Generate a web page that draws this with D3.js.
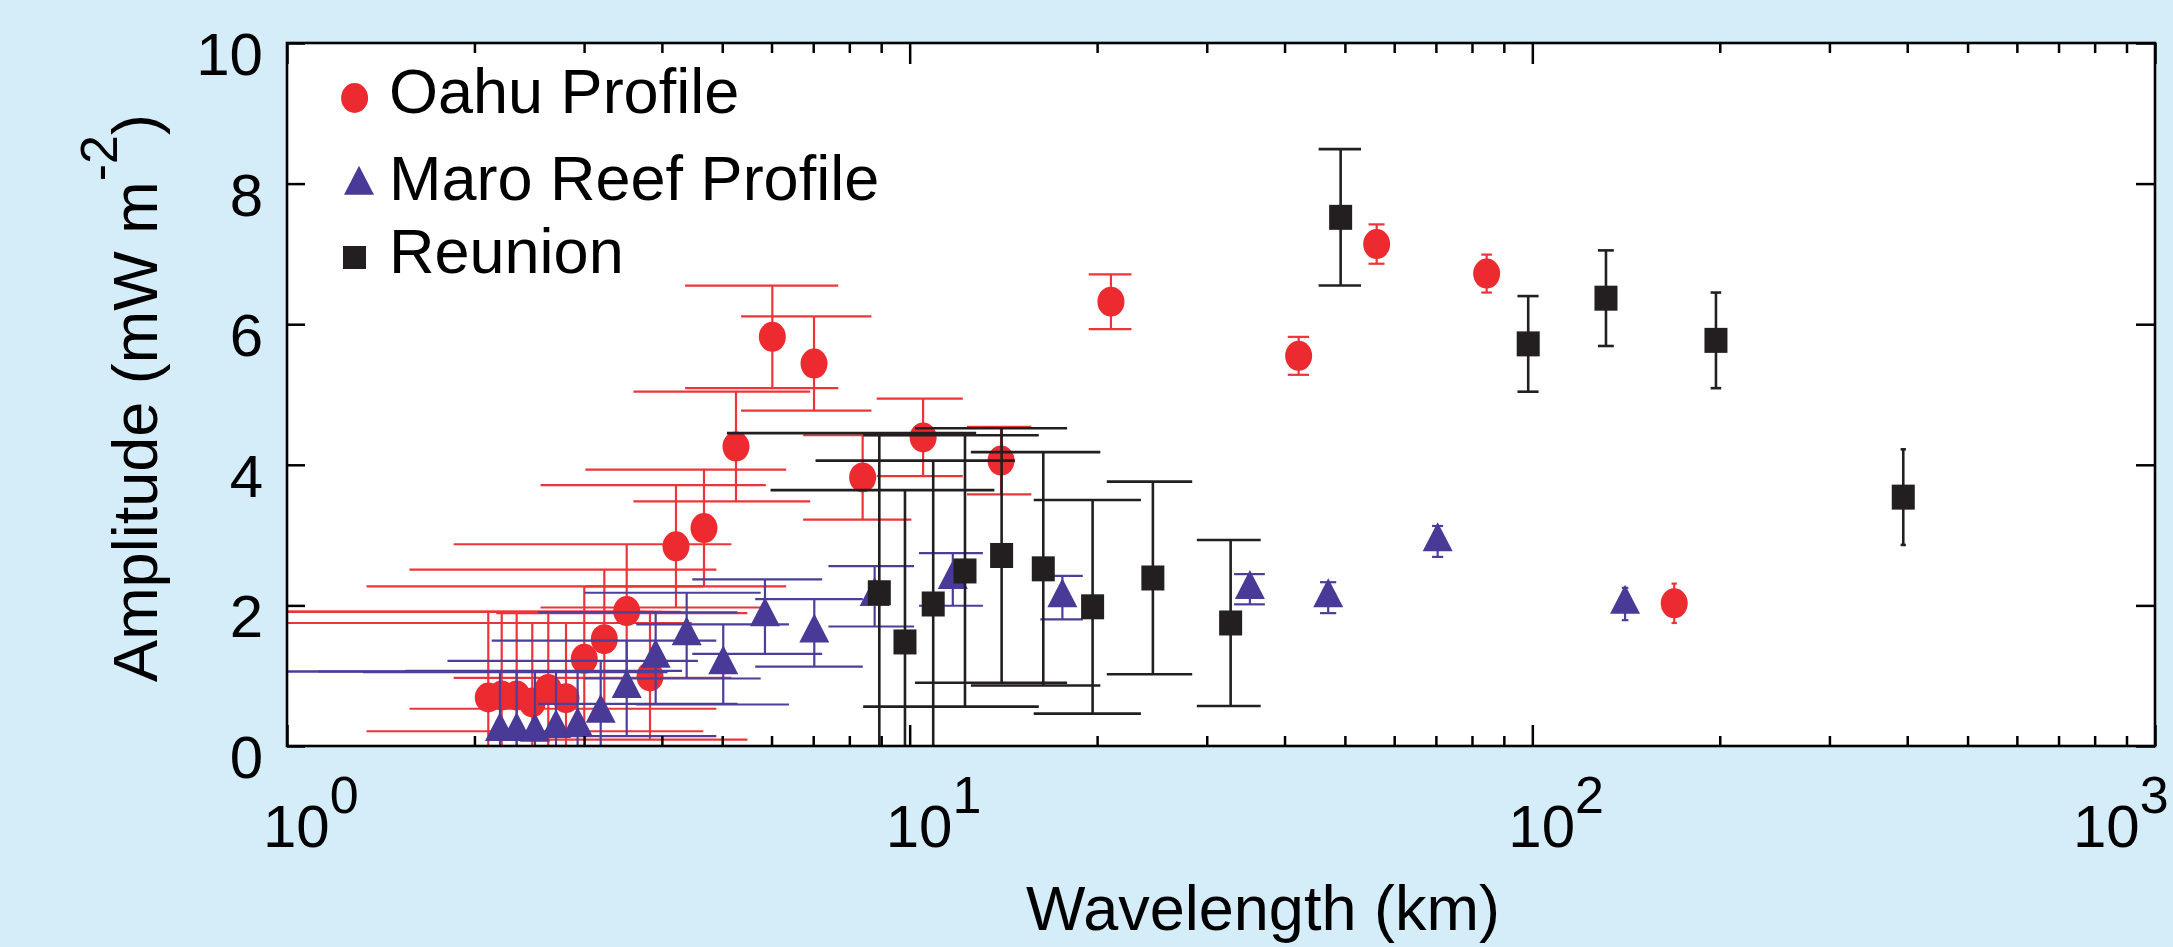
<!DOCTYPE html>
<html>
<head>
<meta charset="utf-8">
<script src="https://cdn.jsdelivr.net/npm/d3@7"></script>
<style>
  html, body { margin: 0; padding: 0; background: #d5ecf9; }
  svg { display: block; }
  text { font-family: "Liberation Sans", Arial, Helvetica, sans-serif; fill: #000; }
</style>
</head>
<body>
<svg id="chart" width="2173" height="947"></svg>
<script>
// Oahu Profile (red ellipses)
const oahuX = [2.105, 2.212, 2.338, 2.477, 2.628, 2.806, 3.002, 3.233, 3.512, 3.828, 4.214, 4.674, 5.261, 6.018, 7.021, 8.404, 10.51, 14.02, 21.05, 42.14, 56.23, 84.46, 169.0];
const oahuY = [0.69, 0.72, 0.72, 0.62, 0.81, 0.68, 1.24, 1.52, 1.92, 0.99, 2.84, 3.10, 4.26, 5.82, 5.44, 3.82, 4.39, 4.06, 6.32, 5.55, 7.14, 6.72, 2.03];
const oahuYErr = [1.22, 1.19, 1.19, 1.13, 1.10, 1.07, 1.03, 0.99, 0.95, 0.90, 0.87, 0.83, 0.78, 0.73, 0.67, 0.60, 0.55, 0.48, 0.39, 0.27, 0.28, 0.27, 0.28];
const oahuXErr = [1.66, 1.66, 1.66, 1.66, 1.66, 1.66, 1.66, 1.66, 1.66, 1.66, 1.66, 1.66, 1.66, 1.66, 1.66, 1.66, 1.66, 1.66, 1.66, 1.66, 1.66, 1.66, 1.66];

// Maro Reef Profile (blue triangles)
const maroX = [2.198, 2.338, 2.502, 2.704, 2.929, 3.190, 3.512, 3.909, 4.384, 5.019, 5.856, 7.028, 8.785, 11.73, 17.59, 35.19, 47.01, 70.46, 140.9];
const maroY = [0.21, 0.21, 0.20, 0.25, 0.28, 0.47, 0.82, 1.25, 1.57, 1.16, 1.84, 1.61, 2.13, 2.37, 2.11, 2.23, 2.11, 2.91, 2.02];
const maroYErr = [0.85, 0.85, 0.86, 0.80, 0.79, 0.74, 0.68, 0.65, 0.61, 0.57, 0.53, 0.48, 0.43, 0.375, 0.31, 0.215, 0.22, 0.22, 0.23];
const maroXErr = [1.38, 1.38, 1.38, 1.38, 1.38, 1.38, 1.38, 1.38, 1.38, 1.38, 1.38, 1.38, 1.38, 1.38, 1.38, 2.0, 1.41, 1.45, 1.7];

// Reunion (black squares)
const reunionX = [8.938, 9.828, 10.91, 12.27, 14.05, 16.39, 19.67, 24.58, 32.77, 49.22, 98.49, 131.3, 197.2, 394.2];
const reunionY = [2.18, 1.48, 2.02, 2.49, 2.71, 2.52, 1.98, 2.39, 1.75, 7.52, 5.72, 6.37, 5.77, 3.54];
const reunionYErr = [2.27, 2.16, 2.04, 1.93, 1.81, 1.66, 1.52, 1.37, 1.18, 0.97, 0.68, 0.68, 0.68, 0.68];
const reunionXErr = [3.85, 3.85, 3.85, 3.85, 3.85, 3.85, 3.85, 3.85, 3.85, 3.85, 3.85, 3.85, 3.85, 3.85];

const yTicks = [0, 2, 4, 6, 8, 10];
const xTickExponents = [0, 1, 2, 3];
const legendLabels = ["Oahu Profile", "Maro Reef Profile", "Reunion"];

const svg = d3.select("#chart");

const x = d3.scaleLog().domain([1, 1000]).range([287, 2155]);
const y = d3.scaleLinear().domain([0, 10]).range([746, 43]);

const [plotLeft, plotRight] = x.range();
const [plotBottom, plotTop] = y.range();

svg.append("rect").attr("width", 2173).attr("height", 947).attr("fill", "#d5ecf9");

svg
  .append("rect")
  .attr("x", plotLeft)
  .attr("y", plotTop)
  .attr("width", plotRight - plotLeft)
  .attr("height", plotBottom - plotTop)
  .attr("fill", "#fff");

svg
  .append("clipPath")
  .attr("id", "plot-clip")
  .append("rect")
  .attr("x", plotLeft)
  .attr("y", plotTop)
  .attr("width", plotRight - plotLeft)
  .attr("height", plotBottom - plotTop);

const plot = svg.append("g").attr("clip-path", "url(#plot-clip)");

const ellipse = (g, color) =>
  g.append("ellipse").attr("rx", 13.5).attr("ry", 15).attr("fill", color);
const triangle = (g, color) =>
  g.append("path").attr("d", "M0,-19.3L15,9.7L-15,9.7Z").attr("fill", color);
const square = (g, color, h = 25) =>
  g
    .append("rect")
    .attr("x", -11.5)
    .attr("y", -h / 2)
    .attr("width", 23)
    .attr("height", h)
    .attr("fill", color);

const series = [
  { xs: oahuX, ys: oahuY, dx: oahuXErr, dy: oahuYErr, color: "#ec2a30", line: "#ee3439", marker: ellipse, width: 2.2 },
  { xs: maroX, ys: maroY, dx: maroXErr, dy: maroYErr, color: "#483a96", line: "#4b3f99", marker: triangle, width: 2.2 },
  { xs: reunionX, ys: reunionY, dx: reunionXErr, dy: reunionYErr, color: "#231f20", line: "#231f20", marker: square, width: 2.6 },
];

const capX = (v) => (v > 0 ? x(v) : plotLeft - 40);

series.forEach((s) => {
  const points = s.xs.map((d, i) => ({ x: d, y: s.ys[i], dx: s.dx[i], dy: s.dy[i] }));
  const g = plot.append("g");

  g.selectAll(".err")
    .data(points)
    .join("line")
    .attr("class", "err")
    .attr("x1", (d) => x(d.x))
    .attr("x2", (d) => x(d.x))
    .attr("y1", (d) => y(d.y - d.dy))
    .attr("y2", (d) => y(d.y + d.dy))
    .attr("stroke", s.line)
    .attr("stroke-width", s.width);

  const caps = points.flatMap((d) => [
    { ...d, cy: d.y + d.dy },
    { ...d, cy: d.y - d.dy },
  ]);

  g.selectAll(".cap")
    .data(caps)
    .join("line")
    .attr("class", "cap")
    .attr("x1", (d) => capX(d.x - d.dx))
    .attr("x2", (d) => x(d.x + d.dx))
    .attr("y1", (d) => y(d.cy))
    .attr("y2", (d) => y(d.cy))
    .attr("stroke", s.line)
    .attr("stroke-width", s.width);

  points.forEach((d) => {
    const m = g.append("g").attr("transform", `translate(${x(d.x)},${y(d.y)})`);
    s.marker(m, s.color);
  });
});

// ticks, all pointing inward
const allX = x.ticks();
const majorX = allX.filter((v) => Math.abs(Math.log10(v) - Math.round(Math.log10(v))) < 1e-9);
const minorX = allX.filter((v) => !majorX.includes(v));

const styleAxis = (g) => {
  g.select(".domain").remove();
  g.selectAll(".tick line").attr("stroke", "#000").attr("stroke-width", 2.5);
  g.selectAll(".tick text").remove();
};

svg.append("g").attr("transform", `translate(0,${plotBottom})`)
  .call(d3.axisBottom(x).tickValues(minorX).tickSize(-10).tickFormat("")).call(styleAxis);
svg.append("g").attr("transform", `translate(0,${plotBottom})`)
  .call(d3.axisBottom(x).tickValues(majorX).tickSize(-21).tickFormat("")).call(styleAxis);
svg.append("g").attr("transform", `translate(0,${plotTop})`)
  .call(d3.axisTop(x).tickValues(minorX).tickSize(-10).tickFormat("")).call(styleAxis);
svg.append("g").attr("transform", `translate(0,${plotTop})`)
  .call(d3.axisTop(x).tickValues(majorX).tickSize(-21).tickFormat("")).call(styleAxis);
svg.append("g").attr("transform", `translate(${plotLeft},0)`)
  .call(d3.axisLeft(y).tickValues(yTicks).tickSize(-18).tickFormat("")).call(styleAxis);
svg.append("g").attr("transform", `translate(${plotRight},0)`)
  .call(d3.axisRight(y).tickValues(yTicks).tickSize(-19).tickFormat("")).call(styleAxis);

svg
  .append("rect")
  .attr("x", plotLeft)
  .attr("y", plotTop)
  .attr("width", plotRight - plotLeft)
  .attr("height", plotBottom - plotTop)
  .attr("fill", "none")
  .attr("stroke", "#000")
  .attr("stroke-width", 2.6);

// tick labels
svg
  .selectAll(".ylabel")
  .data(yTicks)
  .join("text")
  .attr("class", "ylabel")
  .attr("x", 263)
  .attr("y", (d) => y(d) + 32)
  .attr("text-anchor", "end")
  .attr("font-size", 60)
  .text((d) => d);

// the last label is pulled in so it stays inside the page
const xl = svg
  .selectAll(".xlabel")
  .data(xTickExponents)
  .join("text")
  .attr("class", "xlabel")
  .attr("x", (d) => Math.min(x(10 ** d) - 24, 2073))
  .attr("y", 847)
  .attr("font-size", 60);
xl.append("tspan").text("10");
xl.append("tspan").attr("font-size", 52).attr("dy", -34).text((d) => d);

// axis titles
svg
  .append("text")
  .attr("x", 1263)
  .attr("y", 930)
  .attr("text-anchor", "middle")
  .attr("font-size", 63)
  .text("Wavelength (km)");

const yt = svg
  .append("text")
  .attr("transform", "translate(157,398) rotate(-90)")
  .attr("text-anchor", "middle")
  .attr("font-size", 63);
yt.append("tspan").text("Amplitude (mW m");
yt.append("tspan").attr("font-size", 52).attr("dy", -40).text("-2");
yt.append("tspan").attr("dy", 40).text(")");

// legend
const legend = svg.append("g");
const legendRows = [
  { label: legendLabels[0], mx: 354.6, my: 98, ty: 113, draw: (g) => ellipse(g, series[0].color) },
  { label: legendLabels[1], mx: 359, my: 185, ty: 200, draw: (g) => triangle(g, series[1].color) },
  { label: legendLabels[2], mx: 354.5, my: 257.5, ty: 273, draw: (g) => square(g, series[2].color, 23) },
];
legendRows.forEach((r) => {
  r.draw(legend.append("g").attr("transform", `translate(${r.mx},${r.my})`));
  legend
    .append("text")
    .attr("x", 389)
    .attr("y", r.ty)
    .attr("font-size", 63)
    .text(r.label);
});
</script>
</body>
</html>
